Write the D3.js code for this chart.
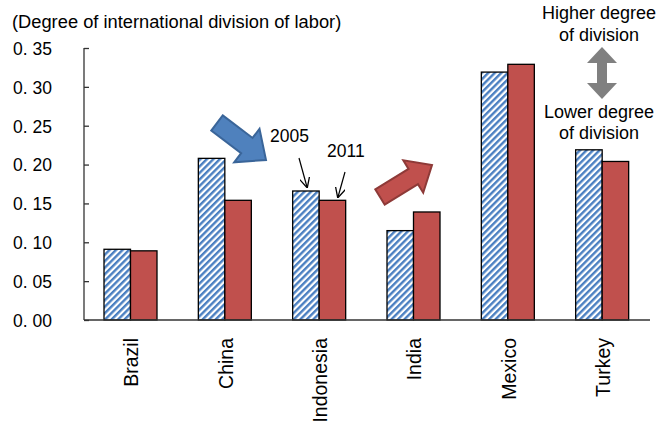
<!DOCTYPE html>
<html><head><meta charset="utf-8">
<script src="https://cdn.jsdelivr.net/npm/d3@7"></script>
<style>body{margin:0;background:#fff}svg{display:block}text{font-family:"Liberation Sans",Arial,sans-serif;fill:#000}</style>
</head><body>
<svg id="c" width="666" height="427"></svg>
<script>
const categories = ["Brazil","China","Indonesia","India","Mexico","Turkey"];
const series = ["2005","2011"];
const values2005 = [0.091,0.208,0.166,0.115,0.319,0.219];
const values2011 = [0.089,0.154,0.154,0.139,0.329,0.204];
const yTicks = [0,0.05,0.10,0.15,0.20,0.25,0.30,0.35];
const yTitle = "(Degree of international division of labor)";

const svg = d3.select("#c");
const x = d3.scaleBand().domain(categories).range([84,650]).paddingInner(0).paddingOuter(0);
const xs = d3.scaleBand().domain(series).range([20,73]);
const y = d3.scaleLinear().domain([0,0.35]).range([320,48]);

const defs = svg.append("defs");
const pat = defs.append("pattern").attr("id","stripe").attr("patternUnits","userSpaceOnUse")
  .attr("width",4.6).attr("height",4.6).attr("patternTransform","rotate(45)");
pat.append("rect").attr("width",4.6).attr("height",4.6).attr("fill","#fff");
pat.append("rect").attr("width",2.4).attr("height",4.6).attr("fill","#4a7fc1");

// bars
const g = svg.append("g");
categories.forEach((c,i)=>{
  [[values2005[i],"2005","url(#stripe)"],[values2011[i],"2011","#c0504d"]].forEach(([v,s,f])=>{
    g.append("rect").attr("x",x(c)+xs(s)).attr("y",y(v)).attr("width",xs.bandwidth()).attr("height",y(0)-y(v))
      .attr("fill",f).attr("stroke","#000").attr("stroke-width",1.3);
  });
});

// axes
const ya = svg.append("g").attr("transform","translate(84,0)")
  .call(d3.axisLeft(y).tickValues(yTicks).tickSize(-5).tickFormat(()=>"" ));
ya.select(".domain").attr("stroke","#333").attr("stroke-width",1.3).attr("d","M0,48V320");
ya.selectAll(".tick line").attr("stroke","#333").attr("stroke-width",1.3);
ya.selectAll(".tick").each(function(d){
  const s = d3.format(".2f")(d).split(".");
  const t = d3.select(this).append("text").attr("x",-71).attr("y",0).attr("dy","0.36em")
    .attr("text-anchor","start").style("font-size","17.5px");
  t.append("tspan").text(s[0]+".");
  t.append("tspan").attr("dx",5).text(s[1]);
});
svg.append("line").attr("x1",84).attr("x2",650).attr("y1",320).attr("y2",320).attr("stroke","#333").attr("stroke-width",1.3);

// x labels
categories.forEach(c=>{
  svg.append("text").attr("transform",`translate(${x(c)+x.bandwidth()/2+7},338) rotate(-90)`)
    .attr("text-anchor","end").style("font-size","19.5px").text(c);
});

svg.append("text").attr("x",12).attr("y",28).style("font-size","18.3px").text(yTitle);

// block arrows
function blockArrow(x0,y0,x1,y1,sw,hw,hl){
  const dx=x1-x0, dy=y1-y0, L=Math.hypot(dx,dy), ux=dx/L, uy=dy/L, nx=-uy, ny=ux;
  const p=(a,b)=>[x0+ux*a+nx*b, y0+uy*a+ny*b];
  return "M"+[p(0,-sw/2),p(L-hl,-sw/2),p(L-hl,-hw/2),p(L,0),p(L-hl,hw/2),p(L-hl,sw/2),p(0,sw/2)].map(q=>q.join(",")).join("L")+"Z";
}
svg.append("path").attr("d",blockArrow(217,123,266,160,19,42,24)).attr("fill","#4f81bd").attr("stroke","#3a6599").attr("stroke-width",2);
svg.append("path").attr("d",blockArrow(380,197,432,165,18,38,22)).attr("fill","#c0504d").attr("stroke","#8e3a38").attr("stroke-width",2);

// double gray arrow
const ax=602;
svg.append("path").attr("d",`M${ax},47L${ax+15},63L${ax+5},63L${ax+5},83L${ax+15},83L${ax},99L${ax-15},83L${ax-5},83L${ax-5},63L${ax-15},63Z`).attr("fill","#808080");

// annotations
svg.append("text").attr("x",270).attr("y",142).style("font-size","17.5px").text("2005");
svg.append("text").attr("x",327).attr("y",157).style("font-size","17.5px").text("2011");
defs.append("marker").attr("id","ah").attr("viewBox","0 0 10 10").attr("refX",9).attr("refY",5)
  .attr("markerWidth",10).attr("markerHeight",10).attr("orient","auto").attr("markerUnits","userSpaceOnUse")
  .append("path").attr("d","M0,0L10,5L0,10").attr("fill","none").attr("stroke","#000").attr("stroke-width",1.3);
svg.append("line").attr("x1",299).attr("y1",158).attr("x2",307).attr("y2",187).attr("stroke","#000").attr("stroke-width",1.2).attr("marker-end","url(#ah)");
svg.append("line").attr("x1",345).attr("y1",172).attr("x2",338).attr("y2",197).attr("stroke","#000").attr("stroke-width",1.2).attr("marker-end","url(#ah)");

const tg = svg.append("g").attr("text-anchor","middle").style("font-size","18px");
tg.append("text").attr("x",599).attr("y",19).text("Higher degree");
tg.append("text").attr("x",599).attr("y",41).text("of division");
tg.append("text").attr("x",599).attr("y",118).text("Lower degree");
tg.append("text").attr("x",599).attr("y",139).text("of division");
</script>
</body></html>
